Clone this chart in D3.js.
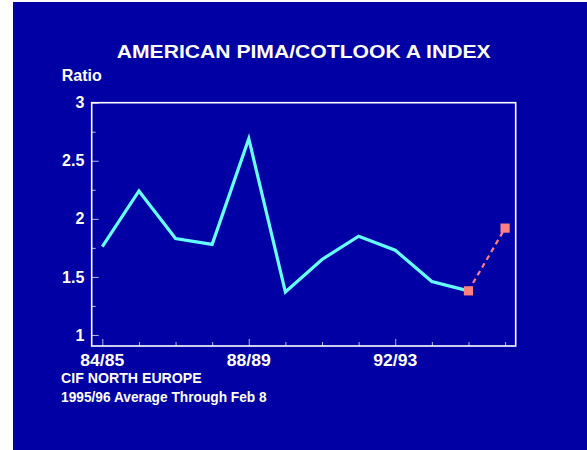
<!DOCTYPE html>
<html>
<head>
<meta charset="utf-8">
<script src="https://cdn.jsdelivr.net/npm/d3@7/dist/d3.min.js"></script>
<style>
  html, body { margin: 0; padding: 0; background: #ffffff; }
  svg { display: block; }
  text { font-family: "Liberation Sans", Arial, Helvetica, sans-serif; fill: #ffffff; font-weight: bold; }
</style>
</head>
<body>
<svg id="chart" width="587" height="450"></svg>
<script>
// Crop years and the American Pima / Cotlook A price ratio
const seasons = ["84/85","85/86","86/87","87/88","88/89","89/90","90/91","91/92","92/93","93/94","94/95","95/96"];
const ratio   = [1.76, 2.24, 1.83, 1.78, 2.69, 1.37, 1.65, 1.85, 1.73, 1.46, 1.38, 1.92];
// seasons shown on the x axis
const labeledSeasons = ["84/85","88/89","92/93"];
// y axis tick values
const majorTicks = [1, 1.5, 2, 2.5, 3];
const minorTicks = [1.25, 1.75, 2.25, 2.75];
// last complete season; the following one is a partial-year average
const lastFullSeason = "94/95";

const svg = d3.select("#chart");

// blue panel
svg.append("rect")
  .attr("x", 13).attr("y", 2).attr("width", 574).attr("height", 448)
  .attr("fill", "#0000a4");

const plot = { left: 91.7, right: 515.7, top: 102.7, bottom: 346 };

const x = d3.scalePoint()
  .domain(seasons)
  .range([plot.left, plot.right])
  .padding(0.29);

const y = d3.scaleLinear()
  .domain([0.905, 3])
  .range([plot.bottom, plot.top]);

// title
svg.append("text")
  .attr("x", 303.7).attr("y", 58.3)
  .attr("text-anchor", "middle")
  .attr("font-size", 17.5)
  .attr("textLength", 374).attr("lengthAdjust", "spacingAndGlyphs")
  .text("AMERICAN PIMA/COTLOOK A INDEX");

svg.append("text")
  .attr("x", 61.7).attr("y", 80.7)
  .attr("font-size", 16)
  .attr("textLength", 40).attr("lengthAdjust", "spacingAndGlyphs")
  .text("Ratio");

// y axis: ticks point into the plot, labels on the left
const yAxis = d3.axisRight(y)
  .tickValues(majorTicks)
  .tickSize(7)
  .tickFormat("");
const yAxisG = svg.append("g")
  .attr("transform", `translate(${plot.left},0)`)
  .call(yAxis);
yAxisG.select(".domain").remove();
yAxisG.selectAll(".tick line").attr("stroke", "#b4b4e4").attr("stroke-width", 1);

const yMinor = d3.axisRight(y).tickValues(minorTicks).tickSize(4).tickFormat("");
const yMinorG = svg.append("g")
  .attr("transform", `translate(${plot.left},0)`)
  .call(yMinor);
yMinorG.select(".domain").remove();
yMinorG.selectAll(".tick line").attr("stroke", "#b4b4e4").attr("stroke-width", 1);

svg.append("g").selectAll("text")
  .data(majorTicks)
  .join("text")
  .attr("x", 84.3)
  .attr("y", d => y(d) + 5.6)
  .attr("text-anchor", "end")
  .attr("font-size", 16)
  .text(d => d3.format("~g")(d));

// x axis: ticks point up into the plot
const xAxis = d3.axisTop(x).tickSize(0).tickFormat("");
const xAxisG = svg.append("g")
  .attr("transform", `translate(0,${plot.bottom})`)
  .call(xAxis);
xAxisG.select(".domain").remove();
xAxisG.selectAll(".tick line")
  .attr("y2", d => labeledSeasons.includes(d) ? -7 : -4)
  .attr("stroke", "#b4b4e4").attr("stroke-width", 1);

svg.append("g").selectAll("text")
  .data(labeledSeasons)
  .join("text")
  .attr("x", d => x(d))
  .attr("y", 365.7)
  .attr("text-anchor", "middle")
  .attr("font-size", 16)
  .attr("textLength", 44).attr("lengthAdjust", "spacingAndGlyphs")
  .text(d => d);

// plot frame
svg.append("rect")
  .attr("x", plot.left).attr("y", plot.top)
  .attr("width", plot.right - plot.left).attr("height", plot.bottom - plot.top)
  .attr("fill", "none").attr("stroke", "#ffffff").attr("stroke-width", 1.6);

const data = seasons.map((s, i) => ({ season: s, value: ratio[i] }));
const splitIdx = seasons.indexOf(lastFullSeason);
const fullYears = data.slice(0, splitIdx + 1);
const projected = data.slice(splitIdx);

const line = d3.line().x(d => x(d.season)).y(d => y(d.value));

svg.append("path")
  .datum(fullYears)
  .attr("d", line)
  .attr("fill", "none")
  .attr("stroke", "#66ffff")
  .attr("stroke-width", 3.2)
  .attr("stroke-linejoin", "miter");

svg.append("path")
  .datum(projected)
  .attr("d", line)
  .attr("fill", "none")
  .attr("stroke", "#ff8080")
  .attr("stroke-width", 2.2)
  .attr("stroke-dasharray", "5,4");

svg.append("g").selectAll("rect")
  .data(projected)
  .join("rect")
  .attr("x", d => x(d.season) - 4.6)
  .attr("y", d => y(d.value) - 4.6)
  .attr("width", 9.2).attr("height", 9.2)
  .attr("fill", "#ff8080");

// source notes
svg.append("text")
  .attr("x", 61).attr("y", 383.3)
  .attr("font-size", 14)
  .attr("textLength", 140.7).attr("lengthAdjust", "spacingAndGlyphs")
  .text("CIF NORTH EUROPE");

svg.append("text")
  .attr("x", 61).attr("y", 401.7)
  .attr("font-size", 14)
  .attr("textLength", 205.7).attr("lengthAdjust", "spacingAndGlyphs")
  .text("1995/96 Average Through Feb 8");
</script>
</body>
</html>
